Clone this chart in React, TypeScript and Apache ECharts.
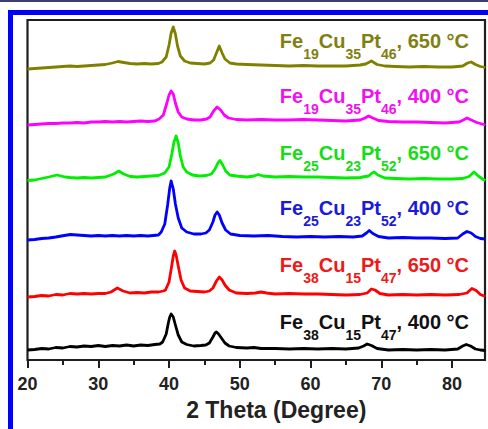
import React, { useEffect, useRef } from "react";
import * as echarts from "echarts";

// 2θ (degree) vs stacked XRD intensity (a.u., offset per pattern)
const fe38_400: [number, number][] = [
  [20, 10], [21, 10.5], [22, 11.5], [23, 11], [24, 12.5], [25, 12], [26, 13.5], [27, 13], [28, 14], [29, 13.5],
  [30, 14.5], [31, 13.5], [32, 14.5], [33, 14], [34, 15], [35, 14], [36, 15], [37, 14.5], [38, 15.5], [38.7, 16],
  [39.1, 18], [39.6, 26], [39.9, 37], [40.1, 43], [40.3, 46], [40.6, 43], [40.9, 35], [41.3, 25], [41.8, 18],
  [42.5, 15.5], [43.5, 14], [44.5, 14.5], [45.2, 15], [45.7, 17], [46.2, 23], [46.5, 27], [46.7, 28], [47.0, 26],
  [47.4, 22], [47.9, 17], [48.5, 14], [49.5, 12.5], [51, 12], [52, 12.5], [53, 11.5], [55, 11.5], [57, 11],
  [59, 11.5], [61, 11], [63, 11.5], [65, 11], [66.8, 12], [67.5, 14], [68.0, 16], [68.6, 14.5], [69.4, 11.5],
  [71, 10], [73, 10.5], [75, 10], [77, 10.5], [79, 10], [80.8, 11], [81.5, 14], [82.0, 15.5], [82.6, 14],
  [83.3, 11], [84, 10], [84.7, 9.5],
];

const fe38_650: [number, number][] = [
  [20, 63], [21, 63.5], [22, 64.5], [23, 64], [24, 65.5], [25, 65], [26, 66.5], [27, 66], [28, 66.5], [29, 66],
  [30, 66.5], [31, 66.5], [31.8, 68], [32.7, 72], [33.5, 69], [34.5, 67], [35.5, 67.5], [36.5, 67], [37.5, 68],
  [38.5, 68], [39.2, 69], [39.5, 70], [40.0, 78], [40.4, 95], [40.6, 104], [40.8, 109], [41.0, 105], [41.3, 94],
  [41.7, 80], [42.2, 72], [43, 69], [44, 68.5], [45, 68], [45.7, 69], [46.2, 72], [46.7, 79], [47.1, 83],
  [47.5, 80], [47.9, 75], [48.5, 70], [49.5, 67], [51, 66.5], [52.2, 67], [53, 68], [53.8, 67], [55, 66],
  [57, 66.5], [59, 66], [61, 66], [63, 65.5], [65, 65], [67, 65.5], [68.0, 67], [68.6, 71], [69.1, 70],
  [69.8, 66.5], [71, 65], [73, 65.5], [75, 65], [77, 65.5], [79, 65], [81, 65.5], [82.1, 67], [82.8, 71.5],
  [83.4, 69.5], [84, 65.5], [84.7, 63.5],
];

const fe25_400: [number, number][] = [
  [20, 120], [21, 120.5], [22, 121.5], [23, 122], [24, 123], [25.2, 124.5], [26.1, 125.5], [27, 125], [28, 124.5],
  [29, 124], [30, 124.5], [31, 124], [32, 124.5], [33, 124], [34, 124.5], [35, 124], [36, 124.5], [37, 124],
  [38.5, 125], [38.9, 128], [39.4, 136], [39.8, 155], [40.1, 172], [40.3, 179], [40.6, 171], [40.9, 156],
  [41.3, 142], [41.8, 132], [42.5, 128], [43.5, 126], [44.5, 126], [45.2, 127], [45.7, 130], [46.2, 138],
  [46.5, 145], [46.8, 148], [47.1, 145], [47.5, 137], [48.0, 130], [48.7, 126], [50, 124.5], [52, 124],
  [54, 124.5], [56, 123.5], [58, 123], [60, 123.5], [62, 123], [64, 123.5], [66, 123], [67.3, 124], [67.9, 127],
  [68.3, 129.5], [68.8, 126.5], [69.6, 123.5], [71, 122], [73, 122.5], [75, 122], [77, 122], [79, 121.5],
  [80.8, 122], [81.5, 126], [82.1, 128.5], [82.7, 127], [83.3, 123.5], [84, 121.5], [84.7, 121],
];

const fe25_650: [number, number][] = [
  [20, 179.5], [21, 180], [22, 181.5], [23, 183], [24.2, 185], [25.3, 183], [26, 182.5], [27, 182], [28, 182.5],
  [29, 182], [30, 182.5], [31, 183], [32.2, 186], [32.9, 189], [33.6, 186], [34.5, 183.5], [35.5, 183],
  [36.5, 183.5], [37.5, 184], [38.5, 184.5], [39.4, 187], [40.0, 193], [40.4, 206], [40.7, 218], [41.0, 224],
  [41.3, 217], [41.6, 204], [42.0, 193], [42.5, 188], [43.3, 185], [44.3, 184], [45.3, 184.5], [46.0, 186],
  [46.5, 191], [46.9, 197], [47.2, 199.5], [47.6, 195], [48.0, 189], [48.6, 185], [49.5, 184], [51, 183],
  [52, 184], [52.6, 185.5], [53.3, 184], [55, 183], [57, 183.5], [59, 183], [61, 183], [63, 182.5], [65, 182],
  [67, 182.5], [68.2, 184], [68.7, 187], [69.0, 188], [69.5, 185], [70.5, 182], [72, 181.5], [74, 181],
  [76, 181.5], [78, 181], [80, 181], [81.5, 181.5], [82.4, 183.5], [83.1, 188], [83.7, 184], [84.3, 181],
  [84.7, 179.5],
];

const fe19_400: [number, number][] = [
  [20, 235], [21, 235.5], [22, 236], [23, 236.5], [24, 236.5], [25, 237], [26, 237], [27, 237.5], [28, 237],
  [29, 238], [30, 238], [31, 238.5], [32, 238], [33, 238.5], [34, 238], [35, 238.5], [36, 239], [37, 238.5],
  [38, 239], [38.6, 241], [39.2, 245], [39.7, 257], [40.0, 265], [40.3, 269], [40.6, 266], [40.9, 257],
  [41.3, 248], [41.8, 243], [42.5, 241], [43.5, 240], [44.5, 240], [45.3, 241], [45.8, 243], [46.3, 249],
  [46.8, 253], [47.3, 250], [47.8, 245], [48.4, 242], [49.5, 240.5], [51, 240], [53, 240.5], [55, 240],
  [57, 240], [59, 240.5], [61, 240], [63, 239.5], [65, 239], [67, 240], [67.7, 242], [68.2, 244], [68.8, 242],
  [69.6, 239.5], [71, 238.5], [73, 238], [75, 238], [77, 237.5], [79, 237], [81, 238], [81.6, 240], [82.1, 242],
  [82.7, 240], [83.5, 237.5], [84.7, 235],
];

const fe19_650: [number, number][] = [
  [20, 291], [21, 291.5], [22, 292], [23, 292.5], [24, 293], [25, 293.5], [26, 294], [27, 293.5], [28, 294],
  [29, 294.5], [30, 295], [31, 295.5], [32, 297], [32.8, 298.5], [33.6, 297.5], [34.5, 296.5], [35.5, 296],
  [36.5, 296.5], [37.5, 296], [38.5, 296.5], [39.0, 298], [39.6, 303], [40.0, 315], [40.3, 327], [40.6, 333],
  [40.9, 326], [41.2, 314], [41.6, 304], [42.2, 299], [43, 297], [44, 296.5], [45, 296], [45.8, 297],
  [46.3, 300], [46.7, 307], [47.1, 314], [47.5, 307], [47.9, 301], [48.6, 297], [49.5, 296], [51, 295.5],
  [53, 295], [55, 294.5], [57, 294], [59, 294.5], [61, 294], [63, 294], [65, 294], [67, 295], [67.8, 296],
  [68.6, 299], [69.4, 295.5], [70.5, 294], [72, 293.5], [74, 293], [76, 293.5], [78, 293], [80, 293],
  [81.5, 294], [82.2, 297], [82.7, 298], [83.3, 295.5], [84, 293.5], [84.7, 292.5],
];

const patterns = [fe38_400, fe38_650, fe25_400, fe25_650, fe19_400, fe19_650];
const feContent = ["38", "38", "25", "25", "19", "19"];
const cuContent = ["15", "15", "23", "23", "35", "35"];
const ptContent = ["47", "47", "52", "52", "46", "46"];
const anneal = ["400", "650", "400", "650", "400", "650"];

const majorTicks = [20, 30, 40, 50, 60, 70, 80];
const minorTicks = [25, 35, 45, 55, 65, 75];
const xTitle = "2 Theta (Degree)";

const lineColors = ["#000000", "#ff0000", "#0000ff", "#00ee00", "#ff00ff", "#808000"];
const textColors = ["#111111", "#f01818", "#1a1ad8", "#16dd16", "#f010f0", "#808010"];
const labelY = [322, 265, 208, 153, 96, 41];

const FONT = "'Liberation Sans', Arial, Helvetica, sans-serif";
const X_MIN = 20;
const X_MAX = 84.65;

export default function App() {
  const ref = useRef<HTMLDivElement>(null);

  useEffect(() => {
    if (!ref.current) return;
    const chart = echarts.init(ref.current, null, { renderer: "svg" });

    const rich = (color: string) => ({
      m: { fontFamily: FONT, fontSize: 20, fontWeight: "bold", fill: color, color, lineHeight: 22 },
      s: {
        fontFamily: FONT, fontSize: 14, fontWeight: "bold", fill: color, color, lineHeight: 14,
        padding: [25, 0, 0, 0],
      },
    });

    const labels = patterns.map((_, i) => ({
      type: "text",
      x: 469,
      y: labelY[i],
      silent: true,
      style: {
        text: `{m|Fe}{s|${feContent[i]}}{m|Cu}{s|${cuContent[i]}}{m|Pt}{s|${ptContent[i]}}{m|, ${anneal[i]} °C}`,
        rich: rich(textColors[i]),
        align: "right",
        textAlign: "right",
        verticalAlign: "middle",
        textVerticalAlign: "middle",
        fill: textColors[i],
      },
    }));

    chart.setOption({
      animation: false,
      backgroundColor: "#ffffff",
      grid: {
        left: 27.5,
        right: 3,
        top: 20,
        bottom: 69,
        show: true,
        borderColor: "#1e1e1e",
        borderWidth: 2.2,
        backgroundColor: "transparent",
        outerBoundsMode: "none",
        containLabel: false,
      },
      xAxis: [
        {
          type: "value",
          min: X_MIN,
          max: X_MAX,
          position: "bottom",
          name: xTitle,
          nameLocation: "middle",
          nameGap: 38,
          nameTextStyle: {
            fontFamily: FONT,
            fontSize: 23,
            fontWeight: "bold",
            color: "#222222",
            padding: [0, 0, 0, 40],
          },
          axisLine: { show: false },
          axisTick: {
            show: true,
            customValues: majorTicks,
            length: 8,
            inside: false,
            lineStyle: { color: "#1e1e1e", width: 2 },
          },
          axisLabel: {
            show: true,
            customValues: majorTicks,
            margin: 15,
            fontFamily: FONT,
            fontSize: 18,
            fontWeight: "bold",
            color: "#222222",
          },
          splitLine: { show: false },
          minorTick: { show: false },
        },
        {
          type: "value",
          min: X_MIN,
          max: X_MAX,
          position: "bottom",
          axisLine: { show: false },
          axisTick: {
            show: true,
            customValues: minorTicks,
            length: 5,
            inside: false,
            lineStyle: { color: "#1e1e1e", width: 2 },
          },
          axisLabel: { show: false },
          splitLine: { show: false },
        },
      ],
      yAxis: {
        type: "value",
        min: 0,
        max: 340,
        show: false,
        splitLine: { show: false },
      },
      series: patterns.map((data, i) => ({
        type: "line",
        data,
        xAxisIndex: 0,
        showSymbol: false,
        symbol: "none",
        smooth: false,
        silent: true,
        lineStyle: { color: lineColors[i], width: 2.8, join: "round" },
        itemStyle: { color: lineColors[i] },
      })),
      graphic: [
        { type: "rect", silent: true, shape: { x: 0, y: 0, width: 488, height: 2 }, style: { fill: "#3d3d78" } },
        { type: "rect", silent: true, shape: { x: 8, y: 10, width: 480, height: 5 }, style: { fill: "#0000ff" } },
        { type: "rect", silent: true, shape: { x: 8, y: 10, width: 5, height: 419 }, style: { fill: "#0000ff" } },
        ...labels,
      ],
    });

    return () => chart.dispose();
  }, []);

  return (
    <div style={{ position: "fixed", left: 0, top: 0, width: 488, height: 429, background: "#fff" }}>
      <div ref={ref} style={{ width: 488, height: 429 }} />
    </div>
  );
}
